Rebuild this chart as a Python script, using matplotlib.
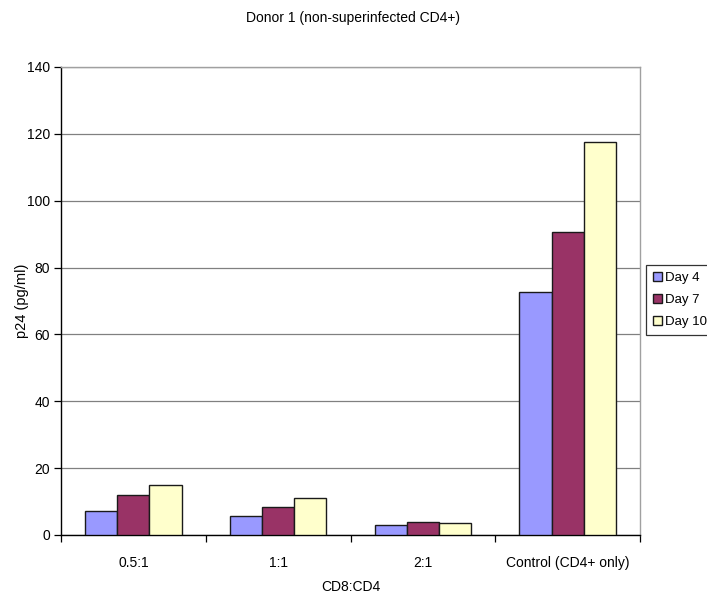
import matplotlib
matplotlib.use("Agg")
import matplotlib.pyplot as plt
import numpy as np

plt.rcParams['font.family'] = ['Liberation Sans', 'DejaVu Sans']

categories = ["0.5:1", "1:1", "2:1", "Control (CD4+ only)"]
series_names = ["Day 4", "Day 7", "Day 10"]
day4 = [7.3, 5.6, 2.9, 72.8]
day7 = [12.1, 8.5, 4.0, 90.7]
day10 = [15.1, 11.1, 3.6, 117.7]
colors = ["#9999FF", "#993366", "#FFFFCC"]

fig = plt.figure(figsize=(7.07, 5.96), dpi=100)
ax = fig.add_axes([61 / 707, 1 - 535 / 596, (640 - 61) / 707, (535 - 67) / 596])

x = np.arange(len(categories))
width = 1 / 4.5
for i, (vals, name, col) in enumerate(zip([day4, day7, day10], series_names, colors)):
    ax.bar(x + (i - 1) * width, vals, width, color=col, edgecolor="#1a1a1a",
           linewidth=1.0, label=name, zorder=3)

ax.set_xlim(-0.5, len(categories) - 0.5)
ax.set_ylim(0, 140)
ax.set_yticks(np.arange(0, 141, 20))
ax.yaxis.grid(True, color="#808080", linewidth=0.9, zorder=0)
ax.set_axisbelow(True)

ax.set_xticks(x)
ax.set_xticklabels(categories, fontsize=10)
ax.set_xticks(np.arange(-0.5, len(categories) + 0.5, 1), minor=True)
ax.tick_params(axis="x", which="major", length=0, pad=15)
ax.tick_params(axis="x", which="minor", length=5, width=0.9, direction="out")
ax.tick_params(axis="y", length=5, width=0.9, direction="out", labelsize=10, pad=3)

for side in ["top", "right"]:
    ax.spines[side].set_color("#a0a0a0")
    ax.spines[side].set_linewidth(1.0)
for side in ["left", "bottom"]:
    ax.spines[side].set_color("black")
    ax.spines[side].set_linewidth(1.0)

fig.text(22 / 707, 1 - 301 / 596, "p24 (pg/ml)", rotation=90, fontsize=10.5,
         ha="center", va="center")
ax.set_xlabel("CD8:CD4", fontsize=10, labelpad=7)
fig.suptitle("Donor 1 (non-superinfected CD4+)", fontsize=10, y=1 - 18 / 596, va="center")

leg = ax.legend(loc="upper left", bbox_to_anchor=(646 / 707, 1 - 265 / 596),
                bbox_transform=fig.transFigure, fontsize=9.5, frameon=True,
                fancybox=False, edgecolor="black", handlelength=0.7,
                handleheight=0.7, handletextpad=0.25, borderpad=0.5,
                labelspacing=0.75, borderaxespad=0)
leg.get_frame().set_linewidth(0.9)

fig.savefig("out.png", dpi=100)
